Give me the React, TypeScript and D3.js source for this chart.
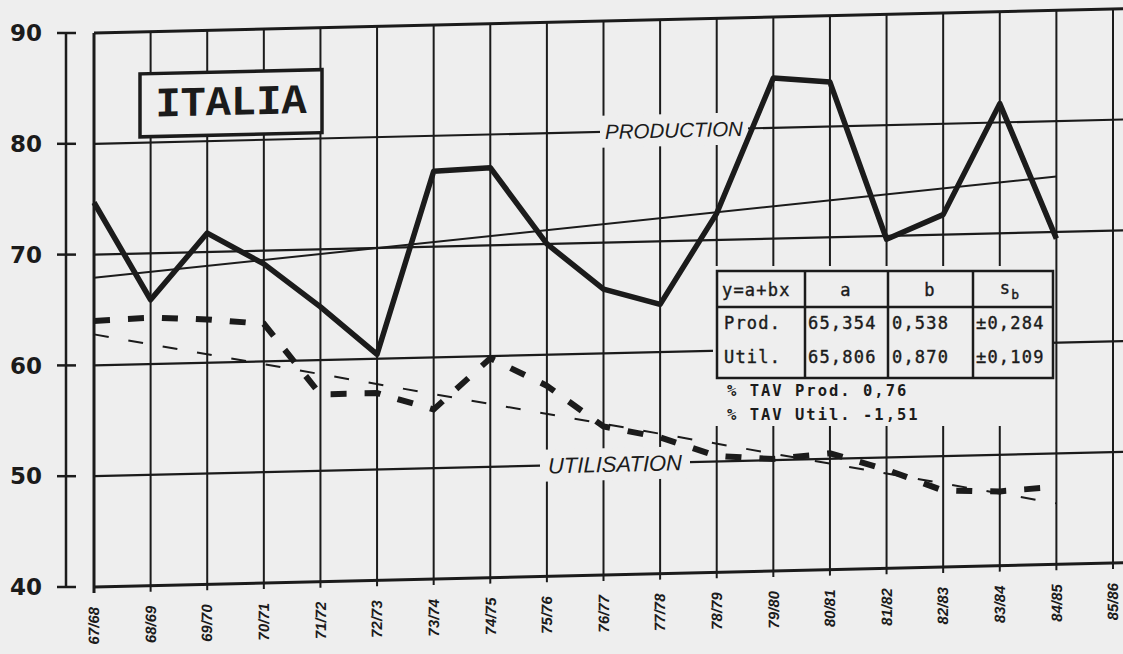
import React, { useEffect, useRef } from "react";
import * as d3 from "d3";

// ITALIA - production vs utilisation per season, with linear trends

const seasons = [
    "67/68", "68/69", "69/70", "70/71", "71/72", "72/73", "73/74", "74/75", "75/76", "76/77",
    "77/78", "78/79", "79/80", "80/81", "81/82", "82/83", "83/84", "84/85", "85/86",
];

const production = [74.7, 65.8, 71.7, 68.8, 64.8, 60.4, 76.8, 77.0, 70.0, 65.8, 64.3, 72.4, 84.5, 84.0, 69.7, 71.8, 81.7, 69.4];
const utilisation = [64.0, 64.2, 63.9, 63.4, 56.9, 56.9, 55.3, 59.8, 57.2, 53.4, 52.3, 50.5, 50.1, 50.5, 48.9, 46.9, 46.7, 47.0];

// trend lines as drawn: value at first and last season
const productionTrend = [67.9, 75.0];
const utilisationTrend = [62.8, 45.5];

const yTicks = [90, 80, 70, 60, 50, 40];

const tableHead = ["y=a+bx", "a", "b"];
const tableRows = [
    ["Prod.", "65,354", "0,538", "±0,284"],
    ["Util.", "65,806", "0,870", "±0,109"],
];
const tavLines = ["% TAV Prod. 0,76", "% TAV Util. -1,51"];

const ItaliaChart = () => {
    const svgRef = useRef(null);

    useEffect(() => {
        const width = 1123;
        const height = 654;
        const bg = "#eeeeee";
        const ink = "#1b1b1b";
        const shear = -0.0236; // the scan is skewed, right side higher

        const svg = d3.select(svgRef.current);
        svg.selectAll("*").remove();

        svg.append("rect").attr("width", width).attr("height", height).attr("fill", bg);

        const x = d3.scalePoint().domain(seasons).range([94, 1113]);
        const y = d3.scaleLinear().domain([40, 90]).range([587, 33]);
        const last = seasons[seasons.length - 2];

        // y axis (kept straight)
        const axis = svg.append("g");
        axis.append("line")
            .attr("x1", 66).attr("x2", 66)
            .attr("y1", y(90)).attr("y2", y(40))
            .attr("stroke", ink).attr("stroke-width", 2.5);
        axis.selectAll(".tk")
            .data(yTicks)
            .join("line")
            .attr("x1", 57).attr("x2", 76)
            .attr("y1", d => y(d)).attr("y2", d => y(d))
            .attr("stroke", ink).attr("stroke-width", 2.5);
        axis.selectAll("text")
            .data(yTicks)
            .join("text")
            .attr("x", 42)
            .attr("y", d => y(d))
            .attr("dy", "0.36em")
            .attr("text-anchor", "end")
            .attr("font-family", "DejaVu Sans")
            .attr("font-weight", "bold")
            .attr("font-size", 23)
            .attr("fill", ink)
            .text(d => d);

        const g = svg.append("g")
            .attr("transform", `matrix(1,${shear},0,1,0,${-shear * 94})`);

        // grid
        g.selectAll(".hline")
            .data(yTicks)
            .join("line")
            .attr("x1", 94).attr("x2", 1123)
            .attr("y1", d => y(d)).attr("y2", d => y(d))
            .attr("stroke", ink)
            .attr("stroke-width", d => (d === 90 || d === 40 ? 3 : 2.2));
        g.selectAll(".vline")
            .data(seasons)
            .join("line")
            .attr("x1", d => x(d)).attr("x2", d => x(d))
            .attr("y1", y(90)).attr("y2", y(40) + 6)
            .attr("stroke", ink)
            .attr("stroke-width", (d, i) => (i === 0 ? 3 : 2));

        // season labels
        g.selectAll(".xl")
            .data(seasons)
            .join("text")
            .attr("transform", d => `translate(${x(d)},${y(40) + 20}) rotate(-90)`)
            .attr("text-anchor", "end")
            .attr("dy", "0.35em")
            .attr("font-family", "Liberation Sans")
            .attr("font-style", "italic")
            .attr("font-weight", "bold")
            .attr("font-size", 15)
            .attr("fill", ink)
            .text(d => d);

        // ITALIA box
        g.append("rect")
            .attr("x", 140).attr("y", 75).attr("width", 182).attr("height", 63)
            .attr("fill", bg).attr("stroke", ink).attr("stroke-width", 3.5);
        g.append("text")
            .attr("x", 231).attr("y", 118)
            .attr("text-anchor", "middle")
            .attr("font-family", "Liberation Mono")
            .attr("font-weight", "bold")
            .attr("font-size", 42)
            .attr("fill", ink)
            .text("ITALIA");

        // series labels sitting on the 80 and 50 grid lines
        const labels = [
            { text: "PRODUCTION", v: 80, x0: 600, x1: 748, size: 20.5 },
            { text: "UTILISATION", v: 50, x0: 540, x1: 690, size: 22 },
        ];
        labels.forEach(l => {
            g.append("rect")
                .attr("x", l.x0).attr("y", y(l.v) - 16)
                .attr("width", l.x1 - l.x0).attr("height", 32)
                .attr("fill", bg);
            g.append("text")
                .attr("x", (l.x0 + l.x1) / 2).attr("y", y(l.v))
                .attr("dy", "0.36em")
                .attr("text-anchor", "middle")
                .attr("font-family", "Liberation Sans")
                .attr("font-style", "italic")
                .attr("font-size", l.size)
                .attr("fill", ink)
                .text(l.text);
        });

        // trend lines
        g.append("line")
            .attr("x1", x(seasons[0])).attr("x2", x(last))
            .attr("y1", y(productionTrend[0])).attr("y2", y(productionTrend[1]))
            .attr("stroke", ink).attr("stroke-width", 2);
        g.append("line")
            .attr("x1", x(seasons[0])).attr("x2", x(last))
            .attr("y1", y(utilisationTrend[0])).attr("y2", y(utilisationTrend[1]))
            .attr("stroke", ink).attr("stroke-width", 2)
            .attr("stroke-dasharray", "15 20");

        // regression table (pasted on, not skewed)
        const tbl = svg.append("g");
        tbl.append("rect")
            .attr("x", 713).attr("y", 266).attr("width", 341).attr("height", 160)
            .attr("fill", bg);
        tbl.append("rect")
            .attr("x", 717).attr("y", 271).attr("width", 336).attr("height", 107)
            .attr("fill", "none").attr("stroke", ink).attr("stroke-width", 2.5);
        tbl.append("line")
            .attr("x1", 717).attr("x2", 1053).attr("y1", 307).attr("y2", 307)
            .attr("stroke", ink).attr("stroke-width", 2.5);
        [805, 888, 973].forEach(cx => {
            tbl.append("line")
                .attr("x1", cx).attr("x2", cx).attr("y1", 271).attr("y2", 378)
                .attr("stroke", ink).attr("stroke-width", 2.5);
        });
        const cell = (tx, ty, s, anchor = "start") =>
            tbl.append("text")
                .attr("x", tx).attr("y", ty)
                .attr("dy", "0.36em")
                .attr("text-anchor", anchor)
                .attr("font-family", "DejaVu Sans Mono")
                .attr("font-size", 17)
                .attr("letter-spacing", 1.2)
                .attr("stroke", ink)
                .attr("stroke-width", 0.4)
                .attr("fill", ink)
                .text(s);
        cell(722, 290, tableHead[0]);
        cell(846, 290, tableHead[1], "middle");
        cell(930, 290, tableHead[2], "middle");
        const sb = cell(1010, 288, "s", "middle");
        sb.append("tspan").attr("dy", "0.4em").attr("font-size", 13).text("b");
        const colX = [724, 808, 892, 976];
        tableRows.forEach((row, r) => {
            row.forEach((s, c) => cell(colX[c], r === 0 ? 323 : 357, s));
        });
        tavLines.forEach((s, i) => {
            tbl.append("text")
                .attr("x", 727).attr("y", 390 + i * 24)
                .attr("dy", "0.36em")
                .attr("font-family", "DejaVu Sans Mono")
                .attr("font-weight", "bold")
                .attr("font-size", 15.5)
                .attr("letter-spacing", 2)
                .attr("fill", ink)
                .text(s);
        });

        // series
        const line = d3.line()
            .x((d, i) => x(seasons[i]))
            .y(d => y(d));
        g.append("path")
            .datum(production)
            .attr("d", line)
            .attr("fill", "none")
            .attr("stroke", ink)
            .attr("stroke-width", 5.5)
            .attr("stroke-linejoin", "round");
        g.append("path")
            .datum(utilisation)
            .attr("d", line)
            .attr("fill", "none")
            .attr("stroke", ink)
            .attr("stroke-width", 6)
            .attr("stroke-dasharray", "16 18");
    }, []);

    return (
        <svg
            ref={svgRef}
            width={1123}
            height={654}
            style={{ position: "absolute", left: 0, top: 0 }}
        ></svg>
    );
};

export default function App() {
    return <ItaliaChart />;
}
